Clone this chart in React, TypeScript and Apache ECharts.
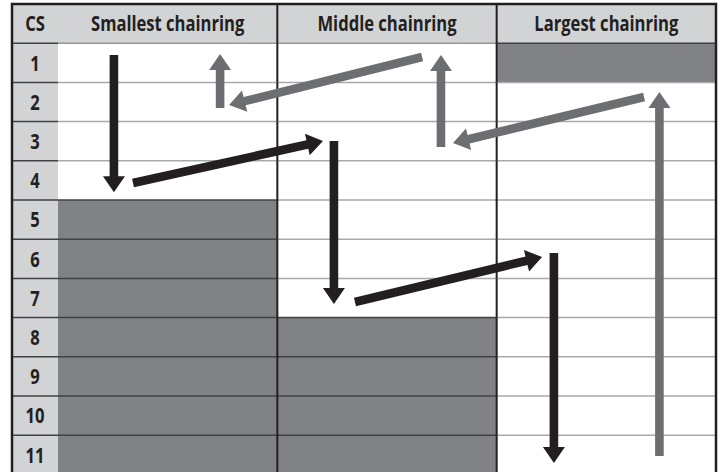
import React, { useEffect, useRef } from "react";
import * as echarts from "echarts";

// ---- data ----
const csHeader = "CS";
const columns = ["Smallest chainring", "Middle chainring", "Largest chainring"];
const rowLabels = ["1", "2", "3", "4", "5", "6", "7", "8", "9", "10", "11"];
// shaded (unavailable) rows for each chainring column
const shadedSmallest = [5, 6, 7, 8, 9, 10, 11];
const shadedMiddle = [8, 9, 10, 11];
const shadedLargest = [1];
// arrows: [fromCol, fromRow, toCol, toRow] in table units (column index, row index; header = 0..1)
const blackArrows = [
  [0.255, 1.3, 0.255, 4.8],
  [0.342, 4.566, 1.208, 3.495],
  [1.258, 3.495, 1.258, 7.653],
  [1.354, 7.602, 2.207, 6.454],
  [2.261, 6.352, 2.261, 11.709],
];
const grayArrows = [
  [0.739, 2.653, 0.739, 1.276],
  [1.66, 1.352, 0.78, 2.577],
  [1.746, 3.648, 1.746, 1.301],
  [2.672, 2.372, 1.801, 3.546],
  [2.742, 11.531, 2.742, 2.245],
];

const DARK = "#231f20";
const HEAD_BG = "#d1d3d4";
const SHADE = "#808285";
const ARROW_GRAY = "#6d6e71";
const LIGHT_LINE = "#a7a9ac";
const SHADE_LINE = "#414042";
const FONT = { fontFamily: "'Open Sans', 'Noto Sans', sans-serif", fontWeight: "bold" as const, fontSize: 21 };

export default function App() {
  const ref = useRef<HTMLDivElement>(null);
  useEffect(() => {
    if (!ref.current) return;
    const chart = echarts.init(ref.current, null, { renderer: "svg" });
    const shadedLists = [shadedSmallest, shadedMiddle, shadedLargest];
    const cellData: number[][] = [];
    columns.forEach((_, c) => {
      cellData.push([c, 0, 0]);
      rowLabels.forEach((_, i) => {
        const r = i + 1;
        cellData.push([c, r, shadedLists[c].includes(r) ? 1 : 0]);
      });
    });
    const csData: number[][] = [[0, 0]];
    rowLabels.forEach((_, i) => csData.push([0, i + 1]));
    const arrowData = [
      ...blackArrows.map((a) => [...a, 0]),
      ...grayArrows.map((a) => [...a, 1]),
    ];

    const axisOff = { show: false };
    const text = (cx: number, cy: number, t: string) => ({
      type: "text",
      x: cx,
      y: cy,
      scaleX: 0.79,
      z2: 5,
      style: { text: t, x: 0, y: 0, align: "center", verticalAlign: "middle", fill: DARK, ...FONT },
    });

    chart.setOption({
      animation: false,
      grid: [
        { left: 12, top: 4, width: 46, height: 470.4, outerBoundsMode: "none", containLabel: false },
        { left: 58, top: 4, width: 658, height: 470.4, outerBoundsMode: "none", containLabel: false },
      ],
      xAxis: [
        { type: "value", gridIndex: 0, min: 0, max: 1, axisLine: axisOff, axisTick: axisOff, axisLabel: axisOff, splitLine: axisOff },
        { type: "value", gridIndex: 1, min: 0, max: 3, axisLine: axisOff, axisTick: axisOff, axisLabel: axisOff, splitLine: axisOff },
      ],
      yAxis: [
        { type: "value", gridIndex: 0, min: 0, max: 12, inverse: true, axisLine: axisOff, axisTick: axisOff, axisLabel: axisOff, splitLine: axisOff },
        { type: "value", gridIndex: 1, min: 0, max: 12, inverse: true, axisLine: axisOff, axisTick: axisOff, axisLabel: axisOff, splitLine: axisOff },
      ],
      series: [
        {
          type: "custom",
          name: "cs",
          xAxisIndex: 0,
          yAxisIndex: 0,
          data: csData,
          z: 2,
          renderItem: (params: any, api: any) => {
            const r = api.value(1);
            const p0 = api.coord([0, r]);
            const p1 = api.coord([1, r + 1]);
            const w = p1[0] - p0[0];
            const h = p1[1] - p0[1];
            const children: any[] = [
              { type: "rect", z2: 0, shape: { x: p0[0], y: p0[1], width: w, height: h }, style: { fill: HEAD_BG } },
              text(p0[0] + w / 2, p0[1] + h / 2, r === 0 ? csHeader : rowLabels[r - 1]),
            ];
            if (r > 0)
              children.push({ type: "line", z2: 2, shape: { x1: p0[0], y1: p0[1], x2: p1[0], y2: p0[1] }, style: { stroke: SHADE_LINE, lineWidth: 1.5 } });
            return { type: "group", children };
          },
        },
        {
          type: "custom",
          name: "cells",
          xAxisIndex: 1,
          yAxisIndex: 1,
          data: cellData,
          z: 2,
          renderItem: (params: any, api: any) => {
            const c = api.value(0);
            const r = api.value(1);
            const s = api.value(2);
            const p0 = api.coord([c, r]);
            const p1 = api.coord([c + 1, r + 1]);
            const w = p1[0] - p0[0];
            const h = p1[1] - p0[1];
            const fill = r === 0 ? HEAD_BG : s ? SHADE : "#ffffff";
            const children: any[] = [
              { type: "rect", z2: 0, shape: { x: p0[0], y: p0[1], width: w, height: h }, style: { fill } },
            ];
            if (r === 0) children.push(text(p0[0] + w / 2, p0[1] + h / 2, columns[c]));
            if (r > 0)
              children.push({
                type: "line",
                z2: s ? 2 : 1,
                shape: { x1: p0[0], y1: p0[1], x2: p1[0], y2: p0[1] },
                style: { stroke: s ? SHADE_LINE : r === 1 ? "#939598" : LIGHT_LINE, lineWidth: 1.5 },
              });
            if (c < columns.length - 1)
              children.push({ type: "line", z2: 3, shape: { x1: p1[0], y1: p0[1], x2: p1[0], y2: p1[1] }, style: { stroke: DARK, lineWidth: 2 } });
            return { type: "group", children };
          },
        },
        {
          type: "custom",
          name: "arrows",
          xAxisIndex: 1,
          yAxisIndex: 1,
          data: arrowData,
          z: 10,
          renderItem: (params: any, api: any) => {
            const a = api.coord([api.value(0), api.value(1)]);
            const b = api.coord([api.value(2), api.value(3)]);
            const color = api.value(4) ? ARROW_GRAY : DARK;
            const dx = b[0] - a[0];
            const dy = b[1] - a[1];
            const len = Math.sqrt(dx * dx + dy * dy);
            const ux = dx / len, uy = dy / len;
            const nx = -uy, ny = ux;
            const L = 16, H = 11, W = 4.3;
            const bx = b[0] - ux * L, by = b[1] - uy * L;
            const points = [
              [a[0] + nx * W, a[1] + ny * W],
              [bx + nx * W, by + ny * W],
              [bx + nx * H, by + ny * H],
              [b[0], b[1]],
              [bx - nx * H, by - ny * H],
              [bx - nx * W, by - ny * W],
              [a[0] - nx * W, a[1] - ny * W],
            ];
            return { type: "polygon", shape: { points }, style: { fill: color } };
          },
        },
      ],
      graphic: [
        {
          type: "rect",
          z: 100,
          shape: { x: 12, y: 4, width: 704, height: 470.4 },
          style: { fill: "none", stroke: DARK, lineWidth: 2.5 },
        },
      ],
    });
    return () => chart.dispose();
  }, []);
  return <div ref={ref} style={{ position: "absolute", left: 0, top: 0, width: 723, height: 472 }} />;
}
